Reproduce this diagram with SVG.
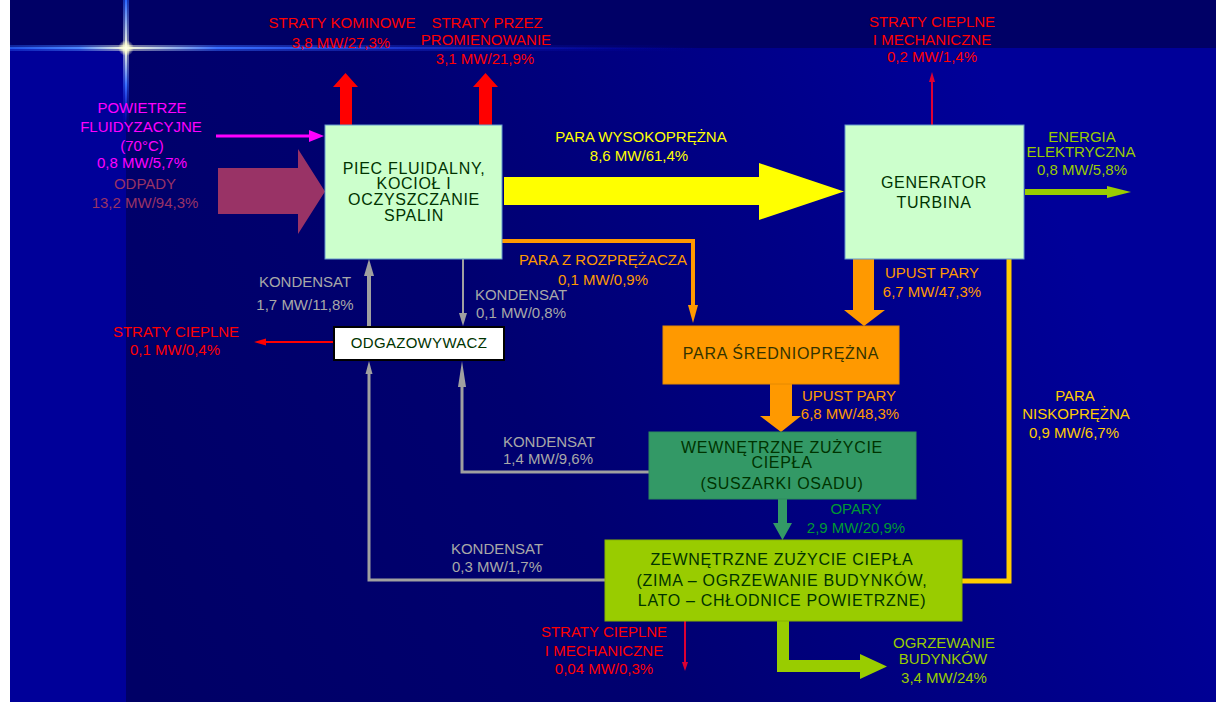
<svg xmlns="http://www.w3.org/2000/svg" width="1216" height="702" viewBox="0 0 1216 702">
<defs>
<linearGradient id="bgGrad" gradientUnits="userSpaceOnUse" x1="126" y1="650" x2="1050" y2="200">
<stop offset="0" stop-color="#000066"/>
<stop offset="0.45" stop-color="#000070"/>
<stop offset="1" stop-color="#000099"/>
</linearGradient>
<linearGradient id="hGlow" gradientUnits="userSpaceOnUse" x1="10" y1="0" x2="700" y2="0">
<stop offset="0" stop-color="#2A66FF" stop-opacity="0.7"/>
<stop offset="0.1" stop-color="#4D88FF"/>
<stop offset="0.168" stop-color="#FFFFDD"/>
<stop offset="0.3" stop-color="#3A70FF"/>
<stop offset="1" stop-color="#0000CC" stop-opacity="0"/>
</linearGradient>
<linearGradient id="vGlow" gradientUnits="userSpaceOnUse" x1="0" y1="0" x2="0" y2="130">
<stop offset="0" stop-color="#2A66FF"/>
<stop offset="0.37" stop-color="#FFFFDD"/>
<stop offset="0.65" stop-color="#3A70FF"/>
<stop offset="1" stop-color="#0000CC" stop-opacity="0"/>
</linearGradient>
<radialGradient id="starC">
<stop offset="0" stop-color="#FFFFF0"/>
<stop offset="0.5" stop-color="#FFFFCC" stop-opacity="0.7"/>
<stop offset="1" stop-color="#FFFFCC" stop-opacity="0"/>
</radialGradient>
<style>
.t{font-family:"Liberation Sans",Arial,sans-serif;font-size:15px;text-anchor:middle}
.b{font-family:"Liberation Sans",Arial,sans-serif;font-size:16px;letter-spacing:0.7px;text-anchor:middle;fill:#003300}
.red{fill:#FF0000}
.mag{fill:#FF00FF}
.mar{fill:#993366}
.yel{fill:#FFFF00}
.org{fill:#FF9900}
.gold{fill:#FFCC00}
.gray{fill:#A8A8A8}
.lime{fill:#99CC00}
.grn{fill:#009933}
.gl{stroke:#A0A0A0;fill:none}
.gh{fill:#A0A0A0}
</style>
</defs>

<!-- background -->
<rect x="0" y="0" width="1216" height="702" fill="#FFFFFF"/>
<rect x="10" y="0" width="1206" height="48" fill="#000066"/>
<rect x="10" y="48" width="1206" height="654" fill="#000099"/>
<rect x="126" y="48" width="1090" height="654" fill="url(#bgGrad)"/>
<!-- star glow -->
<rect x="10" y="45" width="690" height="6" fill="url(#hGlow)" opacity="0.5"/>
<rect x="10" y="47" width="690" height="2" fill="url(#hGlow)"/>
<rect x="123" y="0" width="6" height="130" fill="url(#vGlow)" opacity="0.5"/>
<rect x="125" y="0" width="2" height="130" fill="url(#vGlow)"/>
<circle cx="126" cy="48" r="8" fill="url(#starC)"/>

<!-- connectors -->
<g id="connectors">
<polygon points="340,125 340,87 333,87 345.5,73 358,87 352,87 352,125" fill="#FF0000"/>
<polygon points="479,125 479,87 473,87 485.5,73 498,87 492,87 492,125" fill="#FF0000"/>
<line x1="932" y1="125" x2="932" y2="80" stroke="#DD0033" stroke-width="2"/>
<polygon points="929,82 932,72 935,82" fill="#DD0033"/>
<polygon points="504,177 759,177 759,163 844,191.5 759,220 759,205 504,205" fill="#FFFF00"/>
<polygon points="218,168 298,168 298,149 325,191.5 298,234 298,214 218,214" fill="#993366"/>
<line x1="216" y1="136" x2="312" y2="136" stroke="#FF00FF" stroke-width="3"/>
<polygon points="309,130 324,136 309,142" fill="#FF00FF"/>
<rect x="1025" y="189" width="83" height="6" fill="#99CC00"/>
<polygon points="1107,186 1131,192 1107,198" fill="#99CC00"/>
<polyline points="502,241 693,241 693,308" fill="none" stroke="#FF9900" stroke-width="4"/>
<polygon points="688,305 698,305 693,323" fill="#FF9900"/>
<polygon points="853,259 874,259 874,310 885,310 864,326 844,310 853,310" fill="#FF9900"/>
<polygon points="770,384 792,384 792,416 801,416 781,432 760,416 770,416" fill="#FF9900"/>
<polygon points="778,499 787,499 787,523 792,523 782.5,540 773,523 778,523" fill="#339966"/>
<polygon points="777,621 789,621 789,660 860,660 860,654 887,666.5 860,679 860,672 777,672" fill="#99CC00"/>
<line x1="685" y1="621" x2="685" y2="664" stroke="#DD0033" stroke-width="2"/>
<polygon points="682,662 685,671 688,662" fill="#DD0033"/>
<line x1="334" y1="342" x2="262" y2="342" stroke="#FF0000" stroke-width="2"/>
<polygon points="254,342 266,338.5 266,345.5" fill="#FF0000"/>
<polyline points="1009,259 1009,581 962,581" fill="none" stroke="#FFCC00" stroke-width="5"/>
<line class="gl" x1="369" y1="327" x2="369" y2="272" stroke-width="4"/>
<polygon class="gh" points="364,276 369,259 374,276"/>
<line class="gl" x1="463" y1="259" x2="463" y2="315" stroke-width="2"/>
<polygon class="gh" points="459,313 463,326 467,313"/>
<polyline class="gl" points="605,580 369,580 369,368" stroke-width="3"/>
<polygon class="gh" points="365.5,374 369,361 372.5,374"/>
<polyline class="gl" points="649,472 462,472 462,382" stroke-width="3"/>
<polygon class="gh" points="458,387 462,361 466,387"/>
</g>

<!-- nodes -->
<g id="piec">
<rect x="325" y="125" width="177" height="134" fill="#CCFFCC" stroke="#6699CC" stroke-width="1"/>
<text class="b" x="414" y="174">PIEC FLUIDALNY,</text>
<text class="b" x="414" y="189">KOCIOŁ I</text>
<text class="b" x="414" y="205">OCZYSZCZANIE</text>
<text class="b" x="414" y="221">SPALIN</text>
</g>
<g id="generator">
<rect x="845" y="125" width="179" height="134" fill="#CCFFCC" stroke="#6699CC" stroke-width="1"/>
<text class="b" x="934" y="188">GENERATOR</text>
<text class="b" x="934" y="208">TURBINA</text>
</g>
<g id="odgazowywacz">
<rect x="334" y="327" width="170" height="33" fill="#FFFFFF" stroke="#000000" stroke-width="2"/>
<text class="b" x="419" y="348" style="font-size:15px;letter-spacing:0.3px">ODGAZOWYWACZ</text>
</g>
<g id="para-sredniopr">
<rect x="663" y="326" width="236" height="58" fill="#FF9900" stroke="#E68A00" stroke-width="1"/>
<text class="b" x="781" y="359" style="fill:#333300">PARA ŚREDNIOPRĘŻNA</text>
</g>
<g id="wewnetrzne">
<rect x="649" y="432" width="267" height="67" fill="#339966" stroke="#2E8A5C" stroke-width="1"/>
<text class="b" x="782" y="453">WEWNĘTRZNE ZUŻYCIE</text>
<text class="b" x="782" y="468">CIEPŁA</text>
<text class="b" x="782" y="489">(SUSZARKI OSADU)</text>
</g>
<g id="zewnetrzne">
<rect x="605" y="540" width="357" height="81" fill="#99CC00" stroke="#88B300" stroke-width="1"/>
<text class="b" x="782" y="565">ZEWNĘTRZNE ZUŻYCIE CIEPŁA</text>
<text class="b" x="782" y="586">(ZIMA – OGRZEWANIE BUDYNKÓW,</text>
<text class="b" x="782" y="606">LATO – CHŁODNICE POWIETRZNE)</text>
</g>

<!-- labels -->
<g id="labels">
<text class="t red" x="342" y="28">STRATY KOMINOWE</text>
<text class="t red" x="341" y="48">3,8 MW/27,3%</text>
<text class="t red" x="487" y="28">STRATY PRZEZ</text>
<text class="t red" x="486" y="45">PROMIENOWANIE</text>
<text class="t red" x="485" y="64">3,1 MW/21,9%</text>

<text class="t red" x="932" y="27">STRATY CIEPLNE</text>
<text class="t red" x="932" y="45">I MECHANICZNE</text>
<text class="t red" x="932" y="62">0,2 MW/1,4%</text>

<text class="t mag" x="142" y="113">POWIETRZE</text>
<text class="t mag" x="141" y="132">FLUIDYZACYJNE</text>
<text class="t mag" x="142" y="151">(70°C)</text>
<text class="t mag" x="142" y="168">0,8 MW/5,7%</text>
<text class="t mar" x="145" y="189">ODPADY</text>
<text class="t mar" x="145" y="208">13,2 MW/94,3%</text>

<text class="t yel" x="641" y="142">PARA WYSOKOPRĘŻNA</text>
<text class="t yel" x="639" y="161">8,6 MW/61,4%</text>

<text class="t lime" x="1082" y="142">ENERGIA</text>
<text class="t lime" x="1081" y="157">ELEKTRYCZNA</text>
<text class="t lime" x="1082" y="175">0,8 MW/5,8%</text>

<text class="t org" x="603" y="265">PARA Z ROZPRĘŻACZA</text>
<text class="t org" x="603" y="285">0,1 MW/0,9%</text>

<text class="t org" x="932" y="278">UPUST PARY</text>
<text class="t org" x="932" y="297">6,7 MW/47,3%</text>
<text class="t org" x="849" y="401">UPUST PARY</text>
<text class="t org" x="850" y="419">6,8 MW/48,3%</text>

<text class="t gold" x="1075" y="401">PARA</text>
<text class="t gold" x="1076" y="419">NISKOPRĘŻNA</text>
<text class="t gold" x="1074" y="438">0,9 MW/6,7%</text>

<text class="t gray" x="305" y="287">KONDENSAT</text>
<text class="t gray" x="305" y="310">1,7 MW/11,8%</text>
<text class="t gray" x="521" y="300">KONDENSAT</text>
<text class="t gray" x="521" y="318">0,1 MW/0,8%</text>
<text class="t gray" x="549" y="447">KONDENSAT</text>
<text class="t gray" x="548" y="464">1,4 MW/9,6%</text>
<text class="t gray" x="497" y="554">KONDENSAT</text>
<text class="t gray" x="497" y="572">0,3 MW/1,7%</text>

<text class="t red" x="176" y="337">STRATY CIEPLNE</text>
<text class="t red" x="175" y="355">0,1 MW/0,4%</text>

<text class="t red" x="604" y="637">STRATY CIEPLNE</text>
<text class="t red" x="604" y="656">I MECHANICZNE</text>
<text class="t red" x="604" y="674">0,04 MW/0,3%</text>

<text class="t grn" x="856" y="514">OPARY</text>
<text class="t grn" x="856" y="533">2,9 MW/20,9%</text>

<text class="t lime" x="944" y="648">OGRZEWANIE</text>
<text class="t lime" x="943" y="664">BUDYNKÓW</text>
<text class="t lime" x="944" y="683">3,4 MW/24%</text>
</g>
</svg>
